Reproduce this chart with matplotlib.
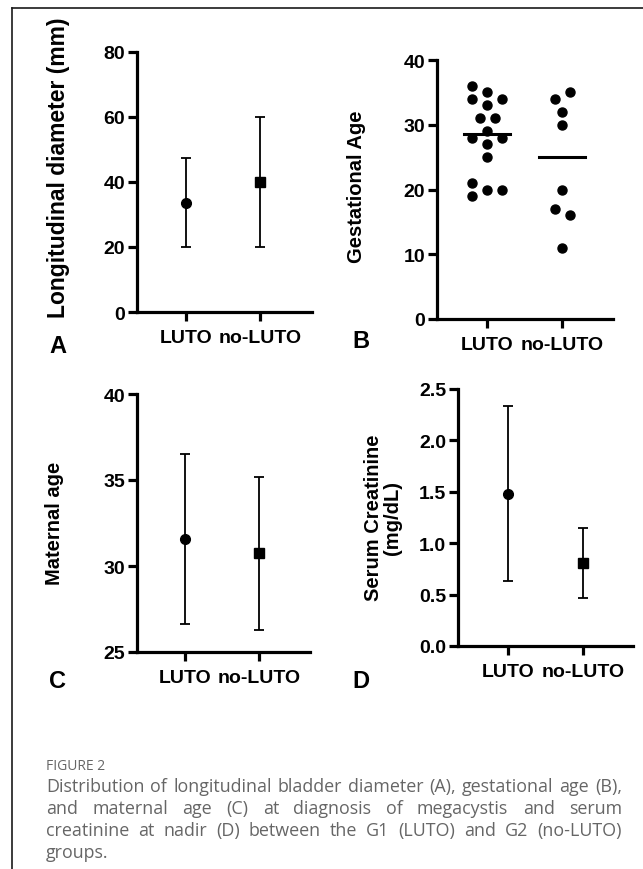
import numpy as np
import matplotlib
matplotlib.use("Agg")
import matplotlib.pyplot as plt
from matplotlib.lines import Line2D

# values
groups = ["LUTO", "no-LUTO"]

# A: longitudinal diameter (mm), mean with range
diam_mean = [33.5, 40.0]
diam_low = [20.0, 20.0]
diam_high = [47.3, 60.0]

# B: gestational age, individual points
ga_luto = [36, 35, 34, 34, 33, 31, 31, 29, 28, 28, 27, 25, 21, 20, 20, 19]
ga_luto_jit = [-0.2, 0, -0.2, 0.2, 0, -0.1, 0.1, 0, -0.2, 0.2, 0, 0, -0.2, 0, 0.2, -0.2]
ga_noluto = [34, 35, 32, 30, 20, 17, 16, 11]
ga_noluto_jit = [-0.1, 0.1, 0, 0, 0, -0.1, 0.1, 0]

# C: maternal age
mat_mean = [31.55, 30.75]
mat_low = [26.6, 26.3]
mat_high = [36.5, 35.2]

# D: serum creatinine (mg/dL)
cr_mean = [1.48, 0.81]
cr_low = [0.63, 0.47]
cr_high = [2.33, 1.15]

caption_head = "FIGURE 2"
caption_lines = [
    "Distribution of longitudinal bladder diameter (A), gestational age (B),",
    "and maternal age (C) at diagnosis of megacystis and serum",
    "creatinine at nadir (D) between the G1 (LUTO) and G2 (no-LUTO)",
    "groups.",
]

W, H = 643, 870
plt.rcParams["font.family"] = ["Liberation Sans", "DejaVu Sans"]
plt.rcParams["font.weight"] = "bold"
fig = plt.figure(figsize=(W / 100, H / 100), dpi=100)


def px_axes(x0, y0, x1, y1):
    return fig.add_axes([x0 / W, 1 - y1 / H, (x1 - x0) / W, (y1 - y0) / H])


def style(ax, ylim, yticks, fmt, xlim):
    ax.set_xlim(*xlim)
    ax.set_ylim(*ylim)
    ax.set_yticks(yticks)
    ax.set_yticklabels([fmt.format(v) for v in yticks])
    ax.set_xticks([0, 1])
    ax.set_xticklabels(groups)
    for s in ["top", "right"]:
        ax.spines[s].set_visible(False)
    for s in ["left", "bottom"]:
        ax.spines[s].set_linewidth(2.3)
    ax.tick_params(width=2.3, length=6.5, labelsize=14, pad=2)
    ax.tick_params(axis="x", pad=6)
    ax.patch.set_alpha(0)


def errplot(ax, mean, low, high):
    x = np.arange(len(mean))
    mean = np.array(mean)
    err = [mean - np.array(low), np.array(high) - mean]
    ax.errorbar(x[:1], mean[:1], yerr=[err[0][:1], err[1][:1]], fmt="o", color="black",
                ms=7, elinewidth=1.3, capsize=3.5, capthick=1.3, clip_on=False)
    ax.errorbar(x[1:], mean[1:], yerr=[err[0][1:], err[1][1:]], fmt="s", color="black",
                ms=6.5, elinewidth=1.3, capsize=3.5, capthick=1.3, clip_on=False)


# panel A
axA = px_axes(137, 53, 312, 313)
errplot(axA, diam_mean, diam_low, diam_high)
style(axA, (0, 80), [0, 20, 40, 60, 80], "{:d}", (-0.66, 1.70))

# panel B
axB = px_axes(437, 61, 613, 320)
axB.plot(0 + np.array(ga_luto_jit), ga_luto, "o", color="black", ms=6.5, clip_on=False)
axB.plot(1 + np.array(ga_noluto_jit), ga_noluto, "o", color="black", ms=6.5, clip_on=False)
for i, vals in enumerate([ga_luto, ga_noluto]):
    m = np.median(vals)
    axB.plot([i - 0.31, i + 0.31], [m, m], color="black", lw=2.2)
style(axB, (0, 40), [0, 10, 20, 30, 40], "{:d}", (-0.67, 1.68))

# panel C
axC = px_axes(137, 395, 310, 653)
errplot(axC, mat_mean, mat_low, mat_high)
style(axC, (25, 40), [25, 30, 35, 40], "{:d}", (-0.65, 1.69))

# panel D
axD = px_axes(458, 390, 633, 647)
errplot(axD, cr_mean, cr_low, cr_high)
style(axD, (0, 2.5), [0, 0.5, 1.0, 1.5, 2.0, 2.5], "{:.1f}", (-0.67, 1.67))


def ftext(x, y, s, **kw):
    return fig.text(x / W, 1 - y / H, s, **kw)


# axis titles
ftext(59, 168, "Longitudinal diameter (mm)", rotation=90, fontsize=16.5, ha="center", va="center")
ftext(356, 187, "Gestational Age", rotation=90, fontsize=14.5, ha="center", va="center")
ftext(55, 523, "Maternal age", rotation=90, fontsize=14.5, ha="center", va="center")
ftext(383, 518, "Serum Creatinine\n(mg/dL)", rotation=90, fontsize=14.5, ha="center",
      va="center", multialignment="center", linespacing=1.0)

# panel letters
for lab, x, y in [("A", 58, 347), ("B", 361, 342), ("C", 57, 682), ("D", 361, 682)]:
    ftext(x, y, lab, fontsize=17, ha="center", va="center")

# frame lines
fig.add_artist(Line2D([11.5 / W, 11.5 / W], [1 - 8.5 / H, 0], color="#1a1a1a", lw=1.2,
                      transform=fig.transFigure))
fig.add_artist(Line2D([11.5 / W, 1], [1 - 8.5 / H, 1 - 8.5 / H], color="#1a1a1a", lw=1.2,
                      transform=fig.transFigure))

# caption
cap_kw = dict(family=["Open Sans", "DejaVu Sans"], fontweight="normal", color="#666666", va="center")
ftext(46, 767, caption_head, fontsize=10, **cap_kw)

x_left, x_right = 46, 622
fig.canvas.draw()
renderer = fig.canvas.get_renderer()
probe = ftext(0, 0, caption_lines[0], fontsize=10, **cap_kw)
w10 = probe.get_window_extent(renderer).width
probe.remove()
fs = 10 * (x_right - x_left) / w10 * 0.985

line_y = [787, 809, 831, 853]
for k, (line, y) in enumerate(zip(caption_lines, line_y)):
    words = line.split(" ")
    texts = [ftext(0, y, w, fontsize=fs, **cap_kw) for w in words]
    widths = [t.get_window_extent(renderer).width for t in texts]
    if k < len(caption_lines) - 1 and len(words) > 1:
        gap = (x_right - x_left - sum(widths)) / (len(words) - 1)
    else:
        gap = 0.27 * fs * 100 / 72
    x = x_left
    for t, w in zip(texts, widths):
        t.set_x(x / W)
        x += w + gap

fig.savefig("out.png", dpi=100)
